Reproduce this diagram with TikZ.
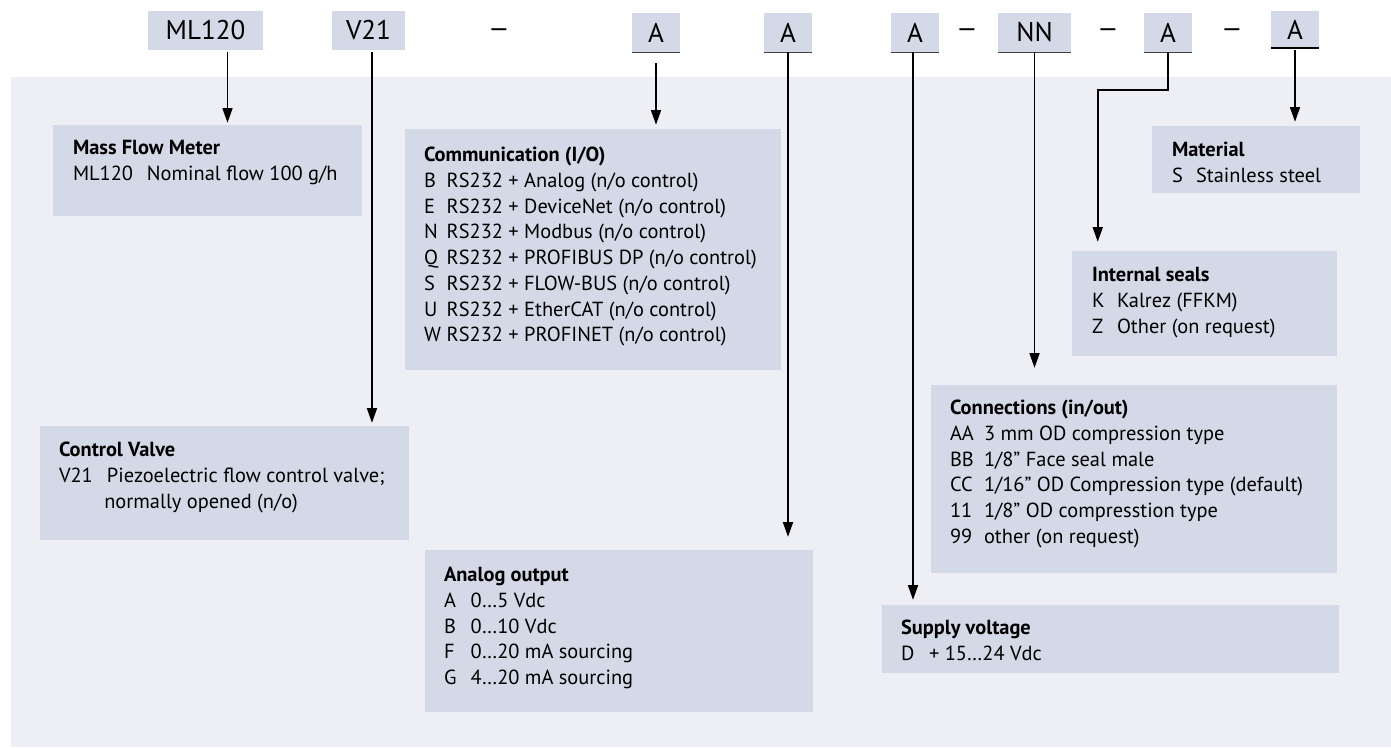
\documentclass[tikz,border=0pt]{standalone}
\usepackage{fontspec}
\setmainfont{PT Sans}
\usepackage{graphicx}
\usetikzlibrary{arrows.meta,fit,positioning}
\definecolor{panelgrey}{RGB}{238,239,245}
\definecolor{boxblue}{RGB}{211,217,231}
\newcommand{\optcode}[2]{\makebox[#1][l]{#2}}

\begin{document}
\begin{tikzpicture}[x=0.75pt, y=-0.75pt,
	codebox/.style={fill=boxblue, inner sep=0pt, minimum height=29.25pt, font=\fontsize{20.3}{24}\selectfont},
	infobox/.style={fill=boxblue, inner sep=0pt},
	infotext/.style={anchor=base west, inner sep=0pt, font=\fontsize{15.3}{19.3}\selectfont},
	dashsign/.style={anchor=base, inner sep=0pt, font=\fontsize{20.3}{24}\selectfont},
	arr/.style={line width=1.2pt, -{Triangle[length=11pt,width=7.5pt]}},
	uline/.style={line width=0.8pt, black!75}]
	\useasboundingbox (0,0) rectangle (1391,747);
	\fill[panelgrey] (11,77) rectangle (1391,747);

	% order code
	\node [codebox, minimum width=86.25pt] (ml) at (205.5,30.5) {ML120};
	\node [codebox, minimum width=54.75pt] (valve) at (368.5,30.5) {V21};
	\node [dashsign] (d1) at (499,37) {\scalebox{1.3}[1]{–}};
	\node [codebox, minimum width=36pt] (a1) at (656,32.5) {A};
	\node [codebox, minimum width=36pt] (a2) at (788,32.5) {A};
	\node [codebox, minimum width=36pt] (a3) at (915,32.5) {A};
	\node [dashsign] (d2) at (967,37) {\scalebox{1.3}[1]{–}};
	\node [codebox, minimum width=54.75pt] (nn) at (1034.5,32.5) {NN};
	\node [dashsign] (d3) at (1108,37) {\scalebox{1.3}[1]{–}};
	\node [codebox, minimum width=36pt] (a4) at (1168,32.5) {A};
	\node [dashsign] (d4) at (1232,37) {\scalebox{1.3}[1]{–}};
	\node [codebox, minimum width=36pt, minimum height=27.75pt] (a5) at (1295,29.5) {A};
	\foreach \n in {a1,a2,a3,nn,a4}
		\draw [uline] (\n.south west) -- (\n.south east);
	\draw [line width=1.7pt] (a5.south west) -- (a5.south east);

	% option boxes
	\node [infobox, fit={(53,125) (362,216)}] (mfm) {};
	\node [infotext] (mfmtxt) at ([shift={(20,30)}]mfm.north west) {\parbox[t]{300pt}{%
		\textbf{Mass Flow Meter}\\
		\optcode{55.5pt}{ML120}Nominal flow 100 g/h}};

	\node [infobox, fit={(40,426) (409,540)}] (cv) {};
	\node [infotext] (cvtxt) at ([shift={(19,31)}]cv.north west) {\parbox[t]{300pt}{%
		\textbf{Control Valve}\\
		\optcode{36pt}{V21}Piezoelectric flow control valve;\\
		\hspace*{34pt}normally opened (n/o)}};

	\node [infobox, fit={(405,129) (781,370)}] (comm) {};
	\node [infotext] (commtxt) at ([shift={(19,33)}]comm.north west) {\parbox[t]{300pt}{%
		\textbf{Communication (I/O)}\\
		\optcode{17pt}{B}RS232 + Analog (n/o control)\\
		\optcode{17pt}{E}RS232 + DeviceNet (n/o control)\\
		\optcode{17pt}{N}RS232 + Modbus (n/o control)\\
		\optcode{17pt}{Q}RS232 + PROFIBUS DP (n/o control)\\
		\optcode{17pt}{S}RS232 + FLOW-BUS (n/o control)\\
		\optcode{17pt}{U}RS232 + EtherCAT (n/o control)\\
		\optcode{17pt}{W}RS232 + PROFINET (n/o control)}};

	\node [infobox, fit={(425,550) (813,712)}] (ao) {};
	\node [infotext] (aotxt) at ([shift={(19,32)}]ao.north west) {\parbox[t]{300pt}{%
		\textbf{Analog output}\\
		\optcode{20pt}{A}0…5 Vdc\\
		\optcode{20pt}{B}0…10 Vdc\\
		\optcode{20pt}{F}0…20 mA sourcing\\
		\optcode{20pt}{G}4…20 mA sourcing}};

	\node [infobox, fit={(1152,126) (1360,193)}] (mat) {};
	\node [infotext] (mattxt) at ([shift={(20,31)}]mat.north west) {\parbox[t]{300pt}{%
		\textbf{Material}\\
		\optcode{18pt}{S}Stainless steel}};

	\node [infobox, fit={(1072,251) (1337,356)}] (seal) {};
	\node [infotext] (sealtxt) at ([shift={(20,31)}]seal.north west) {\parbox[t]{300pt}{%
		\textbf{Internal seals}\\
		\optcode{18.75pt}{K}Kalrez (FFKM)\\
		\optcode{18.75pt}{Z}Other (on request)}};

	\node [infobox, fit={(931,385) (1337,573)}] (conn) {};
	\node [infotext] (conntxt) at ([shift={(19,30)}]conn.north west) {\parbox[t]{300pt}{%
		\textbf{Connections (in/out)}\\
		\optcode{25.5pt}{AA}3 mm OD compression type\\
		\optcode{25.5pt}{BB}1/8” Face seal male\\
		\optcode{25.5pt}{CC}1/16” OD Compression type (default)\\
		\optcode{25.5pt}{11}1/8” OD compresstion type\\
		\optcode{25.5pt}{99}other (on request)}};

	\node [infobox, fit={(882,605) (1339,673)}] (sup) {};
	\node [infotext] (suptxt) at ([shift={(19,30)}]sup.north west) {\parbox[t]{300pt}{%
		\textbf{Supply voltage}\\
		\optcode{21pt}{D}+ 15…24 Vdc}};

	% arrows
	\draw [arr, shorten <=1.5pt, shorten >=1.5pt] ([xshift=16.5pt]ml.south) -- ([xshift=16.5pt]ml.south |- mfm.north);
	\draw [arr, shorten <=1.5pt, shorten >=2.2pt] ([xshift=2.6pt]valve.south) -- ([xshift=2.6pt]valve.south |- cv.north);
	\draw [arr, shorten <=8pt, shorten >=3pt] (a1.south) -- (a1.south |- comm.north);
	\draw [arr, shorten >=9.7pt] (a2.south) -- (a2.south |- ao.north);
	\draw [arr, shorten >=3.7pt] ([xshift=-1.5pt]a3.south) -- ([xshift=-1.5pt]a3.south |- sup.north);
	\draw [arr, shorten >=12.7pt] (nn.south) -- (nn.south |- conn.north);
	\draw [arr, shorten >=6.7pt] (a4.south) -- ++(0,38) -| ([xshift=19.5pt]seal.north west);
	\draw [arr, shorten <=1pt, shorten >=3pt] (a5.south) -- (a5.south |- mat.north);
\end{tikzpicture}
\end{document}
